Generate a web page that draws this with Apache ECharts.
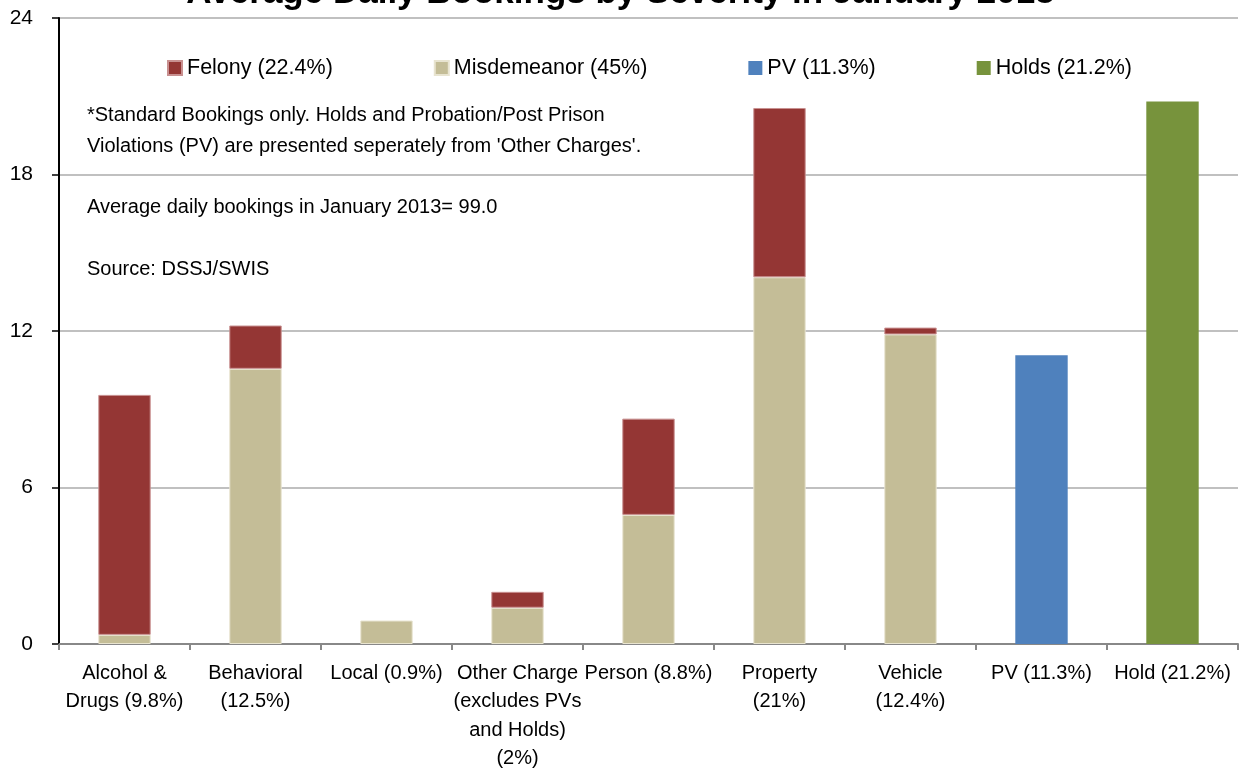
<!DOCTYPE html>
<html>
<head>
<meta charset="utf-8">
<script src="https://cdn.jsdelivr.net/npm/echarts@6/dist/echarts.min.js"></script>
<style>
html,body{margin:0;padding:0;background:#fff;}
#chart{width:1241px;height:773px;}
</style>
</head>
<body>
<div id="chart"></div>
<script>
const categories = ['Alcohol &\nDrugs (9.8%)', 'Behavioral\n(12.5%)', 'Local (0.9%)', 'Other Charge\n(excludes PVs\nand Holds)\n(2%)', 'Person (8.8%)', 'Property\n(21%)', 'Vehicle\n(12.4%)', 'PV (11.3%)', 'Hold (21.2%)'];
const misdemeanor = [0.35, 10.55, 0.90, 1.39, 4.95, 14.06, 11.87, '-', '-'];
const felony = [9.20, 1.66, '-', 0.61, 3.69, 6.49, 0.26, '-', '-'];
const pv = ['-', '-', '-', '-', '-', '-', '-', 11.07, '-'];
const holds = ['-', '-', '-', '-', '-', '-', '-', '-', 20.8];
const seriesNames = ['Felony (22.4%)', 'Misdemeanor (45%)', 'PV (11.3%)', 'Holds (21.2%)'];
const yTicks = [0, 6, 12, 18, 24];
const notes = ["*Standard Bookings only. Holds and Probation/Post Prison", "Violations (PV) are presented seperately from 'Other Charges'.", "Average daily bookings in January 2013= 99.0", "Source: DSSJ/SWIS"];

const FONT = "'Liberation Sans', Arial, sans-serif";
const chart = echarts.init(document.getElementById('chart'));
chart.setOption({
  animation: false,
  backgroundColor: '#fff',
  title: {
    text: 'Average Daily Bookings by Severity in January 2013',
    left: 'center', top: -29,
    textStyle: { fontFamily: FONT, fontWeight: 'bold', fontSize: 35, color: '#000' }
  },
  legend: {
    data: seriesNames,
    left: 162, top: 52,
    itemWidth: 14, itemHeight: 14, itemGap: 101,
    icon: 'rect',
    textStyle: { fontFamily: FONT, fontSize: 21.5, color: '#000' }
  },
  graphic: [
    { type: 'text', left: 87, top: 100, style: { text: notes[0] + '\n' + notes[1], font: '20px ' + FONT, fill: '#000', lineHeight: 31 } },
    { type: 'text', left: 87, top: 192, style: { text: notes[2], font: '20px ' + FONT, fill: '#000', lineHeight: 31 } },
    { type: 'text', left: 87, top: 254, style: { text: notes[3], font: '20px ' + FONT, fill: '#000', lineHeight: 31 } }
  ],
  grid: { left: 59, right: 3, top: 18, bottom: 126 },
  xAxis: {
    type: 'category',
    data: categories,
    axisLine: { lineStyle: { color: '#888', width: 2 } },
    axisTick: { show: true, length: 6, lineStyle: { color: '#888', width: 2 } },
    axisLabel: { interval: 0, margin: 15, fontFamily: FONT, fontSize: 20, lineHeight: 28.5, color: '#000' }
  },
  yAxis: {
    type: 'value', min: yTicks[0], max: yTicks[yTicks.length - 1], interval: 6,
    axisLine: { show: true, lineStyle: { color: '#000', width: 2 } },
    axisTick: { show: true, length: 7, lineStyle: { color: '#000', width: 1.5 } },
    axisLabel: { margin: 26, fontFamily: FONT, fontSize: 21, color: '#000' },
    splitLine: { lineStyle: { color: '#C0C0C0', width: 2 } }
  },
  series: [
    { name: seriesNames[1], type: 'bar', stack: 's', data: misdemeanor, barWidth: '40%', itemStyle: { color: '#C4BD97', borderColor: '#E8E4D0', borderWidth: 1 } },
    { name: seriesNames[0], type: 'bar', stack: 's', data: felony, barWidth: '40%', itemStyle: { color: '#943634', borderColor: '#C89090', borderWidth: 1 } },
    { name: seriesNames[2], type: 'bar', stack: 's', data: pv, barWidth: '40%', itemStyle: { color: '#4F81BD' } },
    { name: seriesNames[3], type: 'bar', stack: 's', data: holds, barWidth: '40%', itemStyle: { color: '#77933C' } }
  ]
});
</script>
</body>
</html>
